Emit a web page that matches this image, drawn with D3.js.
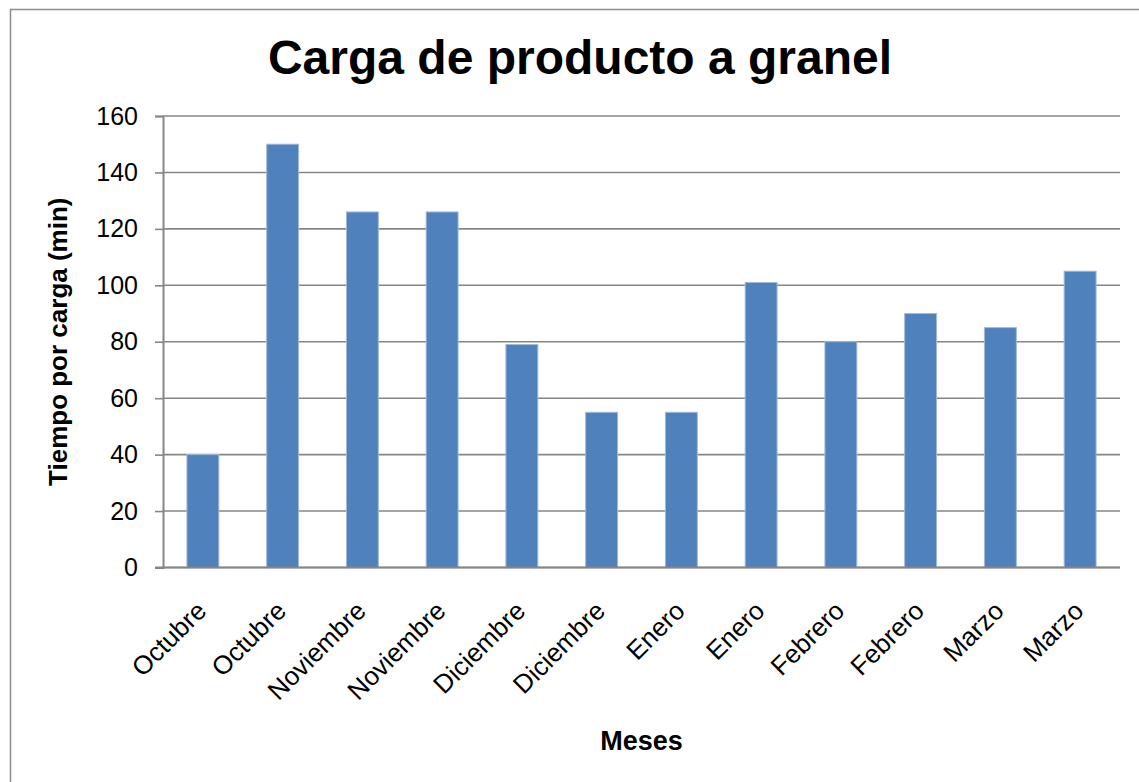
<!DOCTYPE html>
<html>
<head>
<meta charset="utf-8">
<script src="https://cdn.jsdelivr.net/npm/d3@7"></script>
<style>
  html, body { margin: 0; padding: 0; background: #fff; }
  svg { display: block; font-family: "Liberation Sans", Arial, sans-serif; }
</style>
</head>
<body>
<svg id="chart" width="1139" height="782"></svg>
<script>
// Monthly bulk loading times (minutes per load), two readings per month
const months = ["Octubre", "Octubre", "Noviembre", "Noviembre", "Diciembre", "Diciembre",
                "Enero", "Enero", "Febrero", "Febrero", "Marzo", "Marzo"];
const minutes = [40, 150, 126, 126, 79, 55, 55, 101, 80, 90, 85, 105];
const yTicks = [0, 20, 40, 60, 80, 100, 120, 140, 160];

const chartTitle = "Carga de producto a granel";
const yTitle = "Tiempo por carga (min)";
const xTitle = "Meses";

const svg = d3.select("#chart");
const W = 1139, H = 782;
const plot = { left: 163, right: 1120, top: 116, bottom: 567.5 };
const FONT = "Liberation Sans, Arial, sans-serif";

// Outer chart frame (runs off the right and bottom edges)
svg.append("rect")
  .attr("x", 10.5).attr("y", 9.5)
  .attr("width", W + 20).attr("height", H + 20)
  .attr("fill", "#fff").attr("stroke", "#8c8c8c").attr("stroke-width", 1.5);

const x = d3.scaleBand()
  .domain(d3.range(months.length))
  .range([plot.left, plot.right])
  .paddingInner(0.6).paddingOuter(0.3);

const y = d3.scaleLinear().domain([0, 160]).range([plot.bottom, plot.top]);

// Horizontal gridlines
svg.append("g").selectAll("line")
  .data(yTicks)
  .join("line")
  .attr("x1", plot.left).attr("x2", plot.right)
  .attr("y1", d => y(d)).attr("y2", d => y(d))
  .attr("stroke", "#868686").attr("stroke-width", 1.6);

// y-axis with outward ticks
const yAxis = d3.axisLeft(y).tickValues(yTicks).tickSize(8).tickPadding(17).tickFormat(d3.format("d"));
const gy = svg.append("g").attr("transform", `translate(${plot.left},0)`).call(yAxis);
gy.select(".domain").attr("stroke", "#868686").attr("stroke-width", 2);
gy.selectAll(".tick line").attr("stroke", "#868686").attr("stroke-width", 1.6);
gy.selectAll(".tick text").attr("font-size", 25).attr("fill", "#000").attr("font-family", FONT);

// Bars
svg.append("g").selectAll("rect")
  .data(minutes)
  .join("rect")
  .attr("x", (d, i) => x(i))
  .attr("y", d => y(d))
  .attr("width", x.bandwidth())
  .attr("height", d => y(0) - y(d))
  .attr("fill", "#4f81bd")
  .attr("stroke", "#9fb9dc")
  .attr("stroke-width", 1);

// Baseline drawn over the bar bottoms
svg.append("line")
  .attr("x1", plot.left - 8).attr("x2", plot.right)
  .attr("y1", y(0)).attr("y2", y(0))
  .attr("stroke", "#868686").attr("stroke-width", 2);

// Category labels, rotated
svg.append("g").selectAll("text")
  .data(months)
  .join("text")
  .attr("transform", (d, i) => `translate(${x(i) + x.bandwidth() / 2 + 5},${plot.bottom + 45}) rotate(-45)`)
  .attr("text-anchor", "end")
  .attr("font-size", 26)
  .attr("fill", "#000")
  .text(d => d);

// Titles
svg.append("text")
  .attr("x", 580).attr("y", 74)
  .attr("text-anchor", "middle")
  .attr("font-size", 48).attr("font-weight", "bold")
  .text(chartTitle);

svg.append("text")
  .attr("transform", `translate(67,${(plot.top + plot.bottom) / 2}) rotate(-90)`)
  .attr("text-anchor", "middle")
  .attr("font-size", 26).attr("font-weight", "bold")
  .text(yTitle);

svg.append("text")
  .attr("x", (plot.left + plot.right) / 2).attr("y", 750)
  .attr("text-anchor", "middle")
  .attr("font-size", 27).attr("font-weight", "bold")
  .text(xTitle);
</script>
</body>
</html>
